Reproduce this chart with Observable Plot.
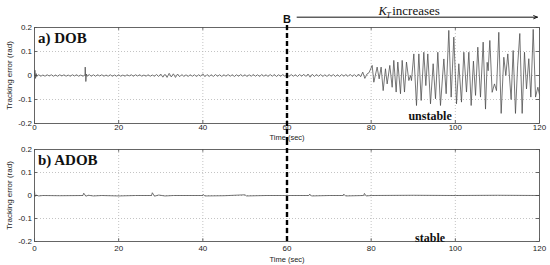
<!DOCTYPE html>
<html>
<head>
<meta charset="utf-8">
<script src="https://cdn.jsdelivr.net/npm/d3@7"></script>
<script src="https://cdn.jsdelivr.net/npm/@observablehq/plot@0.6"></script>
<style>
  html, body { margin: 0; padding: 0; background: #fff; }
  #chart { position: relative; width: 550px; height: 265px; overflow: hidden; }
</style>
</head>
<body>
<div id="chart"></div>
<script>
// ---------- data ----------
const xTicks = [0, 20, 40, 60, 80, 100, 120];
const yTicks = [-0.2, -0.1, 0, 0.1, 0.2];
const xGrid = [20, 40, 60, 80, 100];
const yGrid = [-0.1, 0, 0.1];
const switchTime = 60; // point B

// DOB: small tracking error sampled every 0.5 s from 0 to 79.5 s
const dobNoiseStep = 0.5;
const dobNoise = [
  0, -0.004, 0.003, -0.003, 0.002, -0.003, 0.003, -0.002, 0.003, -0.003,
  0.002, -0.003, 0.003, -0.002, 0.003, -0.003, 0.002, -0.003, 0.003, -0.002,
  0.003, -0.003, 0.002, -0.003, 0.002, -0.003, 0.004, -0.003, 0.003, -0.003,
  0.003, -0.002, 0.003, -0.003, 0.002, -0.003, 0.003, -0.003, 0.002, -0.003,
  0.003, -0.003, 0.002, -0.003, 0.003, -0.002, 0.003, -0.003, 0.003, -0.002,
  0.003, -0.003, 0.002, -0.003, 0.003, -0.003, 0.002, -0.003, 0.004, -0.004,
  0.006, -0.007, 0.005, -0.008, 0.009, -0.006, 0.007, -0.008, 0.006, -0.005,
  0.004, -0.004, 0.003, -0.004, 0.003, -0.003, 0.003, -0.004, 0.003, -0.003,
  0.007, -0.005, 0.004, -0.004, 0.003, -0.004, 0.004, -0.003, 0.003, -0.004,
  0.003, -0.003, 0.004, -0.003, 0.003, -0.004, 0.003, -0.003, 0.004, -0.003,
  0.003, -0.004, 0.003, -0.003, 0.004, -0.003, 0.003, -0.004, 0.004, -0.003,
  0.003, -0.004, 0.004, -0.003, 0.004, -0.004, 0.003, -0.003, 0.004, -0.003,
  0.003, -0.004, 0.004, -0.003, 0.003, -0.004, 0.004, -0.003, 0.005, -0.004,
  0.006, -0.007, 0.005, -0.004, 0.004, -0.003, 0.004, -0.004, 0.003, -0.004,
  0.004, -0.003, 0.004, -0.004, 0.003, -0.004, 0.004, -0.003, 0.004, -0.004,
  0.005, -0.004, 0.004, -0.005, 0.006, -0.005, 0.014, -0.012, 0.006, 0.012
];
// DOB: isolated spikes [time, value]
const dobSpikes = [
  [0.1, 0.022], [0.25, -0.012], [0.4, 0.008],
  [12.05, 0.035], [12.2, -0.025], [12.35, 0.006]
];
// DOB: oscillation after K_T increases [time, value] (peaks and troughs)
const dobOsc = [
  [80.24, 0.042], [80.63, -0.028], [81.42, 0.035], [81.90, -0.014], [82.37, 0.035],
  [82.85, -0.063], [83.40, 0.028], [83.80, -0.035], [84.43, 0.042], [84.99, -0.049],
  [85.38, 0.063], [85.94, -0.069], [86.33, 0.056], [86.97, -0.076], [87.37, 0.063],
  [87.92, -0.069], [88.39, 0.056], [88.95, -0.021], [89.35, 0.000], [89.58, -0.021],
  [90.14, 0.090], [90.77, -0.125], [91.33, 0.090], [91.88, -0.104], [92.51, 0.097],
  [92.99, -0.042], [93.46, 0.090], [94.10, -0.118], [94.73, 0.049], [95.29, -0.097],
  [95.84, 0.097], [96.47, -0.125], [97.27, 0.069], [97.82, -0.076], [98.45, 0.188],
  [99.01, -0.090], [99.64, 0.160], [100.28, -0.118], [100.83, 0.049], [101.46, -0.111],
  [102.02, 0.097], [102.65, -0.069], [103.21, 0.097], [103.76, -0.125],
  [104.30, 0.060], [104.80, -0.083], [105.34, 0.118], [105.98, -0.090], [106.61, 0.139],
  [107.17, -0.140], [107.56, 0.055], [107.80, 0.020], [108.20, 0.146], [108.75, -0.070],
  [109.30, -0.035], [109.78, -0.063], [110.33, 0.180], [110.89, -0.158], [111.52, 0.076],
  [112.00, 0.000], [112.47, 0.090], [113.26, -0.100], [113.74, 0.104], [114.29, -0.158],
  [114.80, 0.040], [115.32, 0.175], [115.88, -0.158], [116.43, 0.097], [116.91, -0.056],
  [117.46, 0.070], [117.94, -0.090], [118.50, 0.192], [119.06, -0.090], [119.61, -0.049],
  [120.00, -0.080]
];
// ADOB: stays close to zero [time, value]
const adob = [
  [0, 0.018], [0.15, -0.004], [0.4, 0.002], [1, -0.002], [2, 0], [6, -0.001], [11.5, 0],
  [11.7, 0.010], [12.2, -0.003], [12.8, 0.001], [14, -0.002], [16, 0], [20, -0.002],
  [24, 0], [27.8, 0], [28.0, 0.012], [28.5, -0.003], [29.5, 0.002], [31, -0.002], [33, 0],
  [40, 0], [40.1, 0.004], [40.5, -0.002], [45, -0.001], [50, 0.003], [50.4, -0.002],
  [55, 0], [65.2, 0], [65.4, 0.006], [65.8, -0.002], [70, 0], [73.3, 0], [73.5, 0.006],
  [73.9, -0.002], [78.2, 0], [78.4, 0.009], [78.8, -0.002], [80, 0], [90, 0.001],
  [100, 0], [110, 0.001], [120, 0]
];
// annotation texts
const xLabel = "Time (sec)";
const yLabel = "Tracking error (rad)";
const panelA = "a) DOB";
const panelB = "b) ADOB";
const unstableText = "unstable";
const stableText = "stable";
const markB = "B";
const ktK = "K", ktSub = "T", ktRest = "increases";
const arrowSpan = [{x1: 62.4, x2: 119.5, y: 0.243}];

// ---------- build series ----------
const dobSeries = dobNoise.map((v, i) => ({t: i * dobNoiseStep, v}))
  .concat(dobSpikes.map(([t, v]) => ({t, v})))
  .sort((a, b) => a.t - b.t)
  .concat(dobOsc.map(([t, v]) => ({t, v})));
const adobSeries = adob.map(([t, v]) => ({t, v}));

const sans = "'Liberation Sans', Arial, Helvetica, sans-serif";
const serif = "'Liberation Serif', 'Times New Roman', serif";
const fmtY = d => d === 0 ? "0" : d.toFixed(1);

function panel({data, top, height, marginTop, marginBottom, tickPad, timeDy, label, status, statusDy, ruleTop, ruleBottom, extra}) {
  return Plot.plot({
    width: 550, height,
    marginLeft: 34, marginRight: 11, marginTop, marginBottom,
    style: {position: "absolute", left: "0px", top: top + "px", overflow: "visible",
            fontFamily: sans, fontSize: "8px", color: "#222", background: "transparent"},
    x: {domain: [0, 120], ticks: xTicks, tickSize: 0, tickPadding: tickPad, tickFormat: d => String(d), label: null},
    y: {domain: [-0.2, 0.2], ticks: yTicks, tickSize: 0, tickPadding: 2.5, tickFormat: fmtY, label: null},
    marks: [
      Plot.ruleX(xGrid, {stroke: "#b5b5b5", strokeDasharray: "1,2", strokeWidth: 0.8}),
      Plot.ruleY(yGrid, {stroke: "#b5b5b5", strokeDasharray: "1,2", strokeWidth: 0.8}),
      // inner tick marks (MATLAB style)
      Plot.ruleX(xTicks, {y1: -0.2, y2: -0.188, stroke: "#444", strokeWidth: 0.8}),
      Plot.ruleX(xTicks, {y1: 0.2, y2: 0.188, stroke: "#444", strokeWidth: 0.8}),
      Plot.ruleY(yTicks, {x1: 0, x2: 0.75, stroke: "#444", strokeWidth: 0.8}),
      Plot.ruleY(yTicks, {x1: 120, x2: 119.25, stroke: "#444", strokeWidth: 0.8}),
      Plot.line(data, {x: "t", y: "v", stroke: "#4a4a4a", strokeWidth: 0.75}),
      Plot.frame({stroke: "#555", strokeWidth: 0.9}),
      Plot.ruleX([switchTime], {stroke: "#000", strokeWidth: 2.4, strokeDasharray: "5,3",
                                insetTop: ruleTop, insetBottom: ruleBottom}),
      Plot.text([label], {frameAnchor: "top-left", textAnchor: "start", lineAnchor: "bottom",
                          dx: 3.5, dy: 15.8, fontFamily: serif, fontWeight: "bold", fontSize: 15, fill: "#111"}),
      Plot.text([status], {x: () => 94, frameAnchor: "bottom", textAnchor: "middle", lineAnchor: "bottom",
                           dy: statusDy, fontFamily: serif, fontWeight: "bold", fontSize: 12, fill: "#111"}),
      Plot.text([xLabel], {x: () => 60, frameAnchor: "bottom", textAnchor: "middle", lineAnchor: "bottom",
                           dy: timeDy, fontSize: 7.5, fill: "#222"}),
      Plot.text([yLabel], {frameAnchor: "left", textAnchor: "middle", rotate: -90, dx: -25,
                           fontSize: 8, fill: "#222"}),
      ...(extra || [])
    ]
  });
}

const topExtra = [
  Plot.text([markB], {x: () => switchTime, frameAnchor: "top", textAnchor: "middle", lineAnchor: "bottom",
                      dy: -4.3, fontFamily: sans, fontWeight: "bold", fontSize: 11, fill: "#111"}),
  Plot.arrow(arrowSpan, {x1: "x1", x2: "x2", y1: "y", y2: "y", stroke: "#111", strokeWidth: 1,
                         headLength: 6, headAngle: 45}),
  Plot.text([ktK], {x: () => 81.74, frameAnchor: "top", textAnchor: "start", lineAnchor: "bottom",
                    dy: -12.5, fontFamily: serif, fontStyle: "italic", fontSize: 12.5, fill: "#111"}),
  Plot.text([ktSub], {x: () => 83.6, frameAnchor: "top", textAnchor: "start", lineAnchor: "bottom",
                      dy: -10, fontFamily: serif, fontStyle: "italic", fontSize: 8, fill: "#111"}),
  Plot.text([ktRest], {x: () => 85.0, frameAnchor: "top", textAnchor: "start", lineAnchor: "bottom",
                       dy: -12.5, fontFamily: serif, fontSize: 13, fill: "#111"})
];

const chart = document.getElementById("chart");
chart.append(panel({data: dobSeries, top: 0, height: 140, marginTop: 27, marginBottom: 17, tickPad: 1,
                    timeDy: 16, label: panelA, status: unstableText, statusDy: -3.7, ruleTop: -2, ruleBottom: -17,
                    extra: topExtra}));
chart.append(panel({data: adobSeries, top: 140, height: 125, marginTop: 9, marginBottom: 24, tickPad: 4,
                    timeDy: 20.5, label: panelB, status: stableText, statusDy: 0.7, ruleTop: -9, ruleBottom: 0}));
</script>
</body>
</html>
